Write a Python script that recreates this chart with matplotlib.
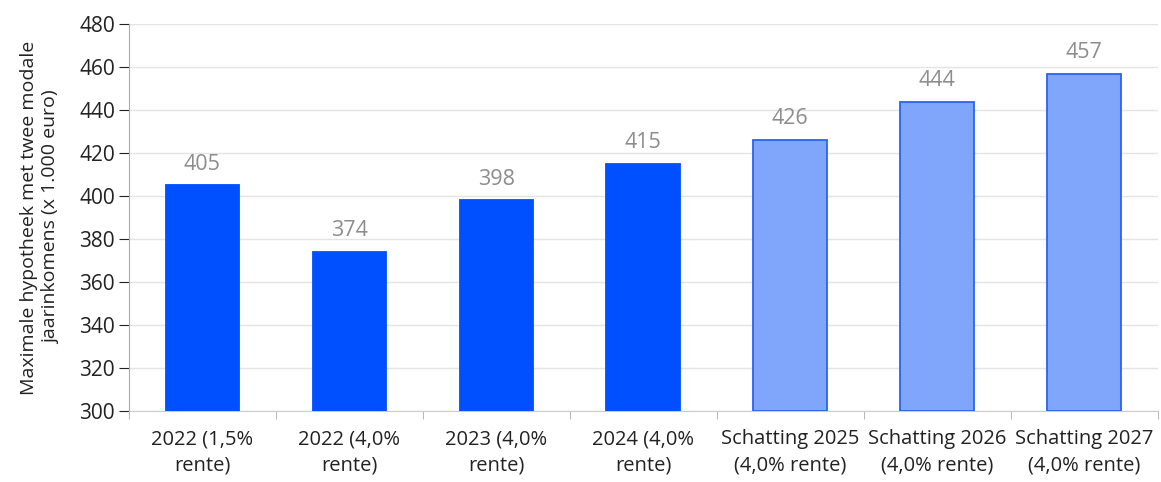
import matplotlib.pyplot as plt
import numpy as np

categories = ["2022 (1,5%\nrente)", "2022 (4,0%\nrente)", "2023 (4,0%\nrente)",
              "2024 (4,0%\nrente)", "Schatting 2025\n(4,0% rente)",
              "Schatting 2026\n(4,0% rente)", "Schatting 2027\n(4,0% rente)"]
values = [405, 374, 398, 415, 426, 444, 457]
is_estimate = [False, False, False, False, True, True, True]

plt.rcParams['font.family'] = ['Open Sans', 'DejaVu Sans']

fig = plt.figure(figsize=(11.61, 4.82), dpi=100)
ax = fig.add_axes([0.111, 0.147, 0.886, 0.803])

x = np.arange(len(categories))
face = ['#7fa6fa' if e else '#0050ff' for e in is_estimate]
edge = ['#2b62f4' if e else '#0050ff' for e in is_estimate]
ax.bar(x, [v - 300 for v in values], bottom=300, width=0.5,
       color=face, edgecolor=edge, linewidth=1.3, zorder=3)

for xi, v in zip(x, values):
    ax.text(xi, v + 5, str(v), ha='center', va='bottom', fontsize=15.5, color='#8c8c8c')

ax.set_ylim(300, 480)
ax.set_xlim(-0.5, len(categories) - 0.5)
ax.set_yticks(range(300, 481, 20))
ax.yaxis.grid(True, color='#e4e4e4', linewidth=1, zorder=0)
ax.set_axisbelow(True)

ax.set_xticks(x)
ax.set_xticklabels(categories, fontsize=14.5, color='#222222', linespacing=1.45)
ax.tick_params(axis='x', length=0, pad=13)
ax.set_xticks(np.arange(-0.5, len(categories)), minor=True)
ax.tick_params(axis='x', which='minor', length=6, color='#aaaaaa')
ax.tick_params(axis='y', labelsize=15, colors='#222222', length=7, pad=3)
for t in ax.get_yticklines():
    t.set_color('#aaaaaa')

for s in ['top', 'right']:
    ax.spines[s].set_visible(False)
ax.spines['left'].set_color('#aaaaaa')
ax.spines['bottom'].set_color('#cccccc')

ax.set_ylabel("Maximale hypotheek met twee modale\njaarinkomens (x 1.000 euro)",
              fontsize=14, color='#222222', linespacing=1.25, labelpad=14)

fig.savefig('out.png', dpi=100)
